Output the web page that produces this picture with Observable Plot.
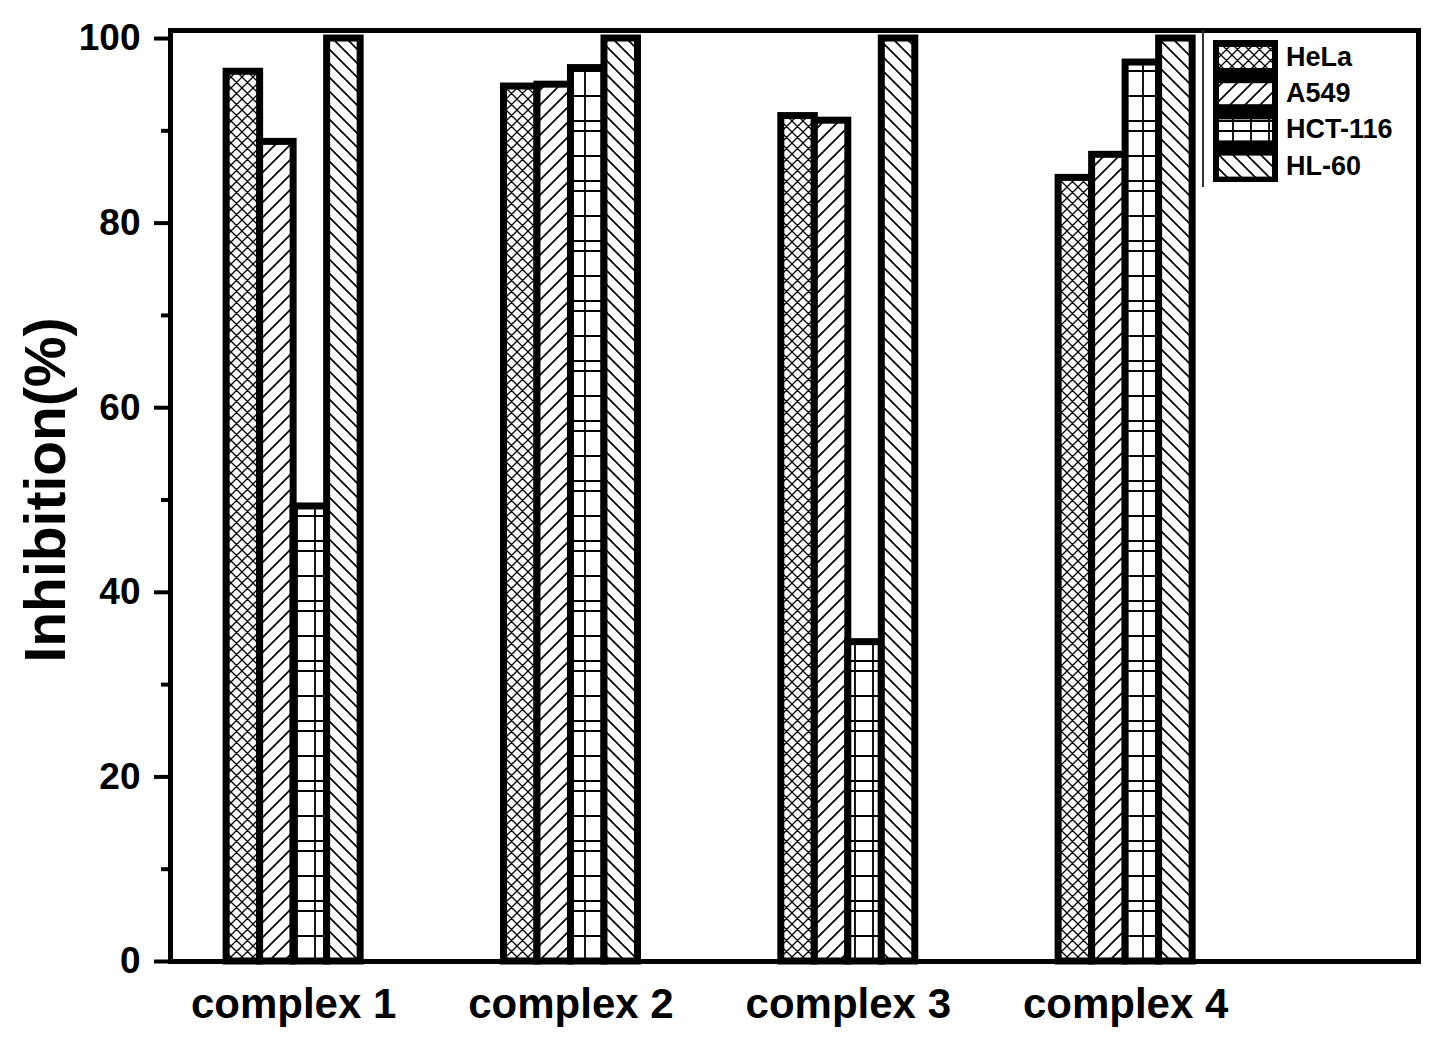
<!DOCTYPE html>
<html><head><meta charset="utf-8">
<script src="https://cdn.jsdelivr.net/npm/d3@7"></script>
<script src="https://cdn.jsdelivr.net/npm/@observablehq/plot@0.6"></script>
<style>
body{margin:0;background:#fff;}
#wrap{position:relative;width:1449px;height:1041px;font-family:"Liberation Sans",Arial,sans-serif;}
</style></head><body><div id="wrap"></div>
<script>
const complexes = ["complex 1", "complex 2", "complex 3", "complex 4"];
const series = ["HeLa", "A549", "HCT-116", "HL-60"];
const hela = [96.4, 94.8, 91.6, 84.9];
const a549 = [88.8, 95.0, 91.1, 87.4];
const hct116 = [49.3, 96.8, 34.6, 97.4];
const hl60 = [100, 100, 100, 100];
const yTicks = [0, 20, 40, 60, 80, 100];
const yMinor = [10, 30, 50, 70, 90];
const yLabel = "Inhibition(%)";

const values = [hela, a549, hct116, hl60];
const BW = 0.1208; // bar width in x units
const rows = [];
values.forEach((vals, j) => vals.forEach((v, i) => rows.push({
  g: i + 1, j, series: series[j], value: v,
  x1: i + 1 + (j - 2) * BW, x2: i + 1 + (j - 1) * BW
})));

const font = '"Liberation Sans", Arial, sans-serif';
const chart = Plot.plot({
  width: 1449, height: 1041,
  marginLeft: 170, marginRight: 31, marginTop: 30, marginBottom: 80,
  x: {type: "linear", domain: [0.556, 5.056]},
  y: {domain: [0, 100.87]},
  style: {fontFamily: font, fontWeight: "bold", color: "#000", background: "#fff", overflow: "visible"},
  marks: [
    ...series.map((s, j) => Plot.rect(rows.filter(r => r.j === j), {
      x1: "x1", x2: "x2", y1: 0, y2: "value",
      fill: `url(#pat${j})`, stroke: "#000", strokeWidth: 7
    })),
    Plot.frame({stroke: "#000", strokeWidth: 5}),
    Plot.axisY(yTicks, {tickSize: 16, tickPadding: 14, fontSize: 37, fontWeight: "bold", strokeWidth: 4, label: null}),
    Plot.axisY(yMinor, {tickSize: 9, strokeWidth: 4, text: null, label: null}),
    Plot.axisX([1, 2, 3, 4], {tickSize: 0, tickPadding: 27, fontSize: 42, fontWeight: "bold", tickFormat: d => complexes[d - 1], label: null})
  ]
});
document.getElementById("wrap").appendChild(chart);

const svg = d3.select(chart);
const defs = svg.insert("defs", ":first-child");
function pattern(id, w, h, d, sw) {
  const p = defs.append("pattern").attr("id", id).attr("patternUnits", "userSpaceOnUse")
    .attr("width", w).attr("height", h);
  p.append("rect").attr("width", w).attr("height", h).attr("fill", "#fff");
  p.append("path").attr("d", d).attr("stroke", "#000").attr("stroke-width", sw).attr("fill", "none");
}
pattern("pat0", 11, 11, "M0,0L11,11M11,0L0,11M-1,1L1,-1M10,12L12,10M-1,10L1,12M10,-1L12,1", 1.3);
pattern("pat1", 15, 15, "M0,15L15,0M-3,3L3,-3M12,18L18,12", 1.7);
pattern("pat2", 18, 60, "M9,0V60M0,1H18M0,11H18M0,36H18", 1.8);
pattern("pat3", 14, 14, "M0,0L14,14M-3,11L3,17M11,-3L17,3", 1.7);

// legend
const lg = svg.append("g");
lg.append("line").attr("x1", 1203).attr("x2", 1203).attr("y1", 30).attr("y2", 187)
  .attr("stroke", "#333").attr("stroke-width", 2);
lg.append("rect").attr("x", 1213).attr("y", 40).attr("width", 65).attr("height", 142).attr("fill", "#000");
series.forEach((s, j) => {
  const y0 = 47 + j * 36.2;
  lg.append("rect").attr("x", 1219).attr("y", y0).attr("width", 53).attr("height", 21)
    .attr("fill", `url(#pat${j})`);
  lg.append("text").attr("x", 1286).attr("y", y0 + 19).text(s)
    .attr("text-anchor", "start")
    .attr("font-size", 27).attr("font-weight", "bold").attr("font-family", font).attr("fill", "#000");
});

// y-axis title
svg.append("text").attr("transform", "translate(45,490) rotate(-90)")
  .attr("text-anchor", "middle").attr("dominant-baseline", "central")
  .attr("font-size", 57).attr("font-weight", "bold").attr("font-family", font).attr("fill", "#000")
  .text(yLabel);
</script></body></html>
